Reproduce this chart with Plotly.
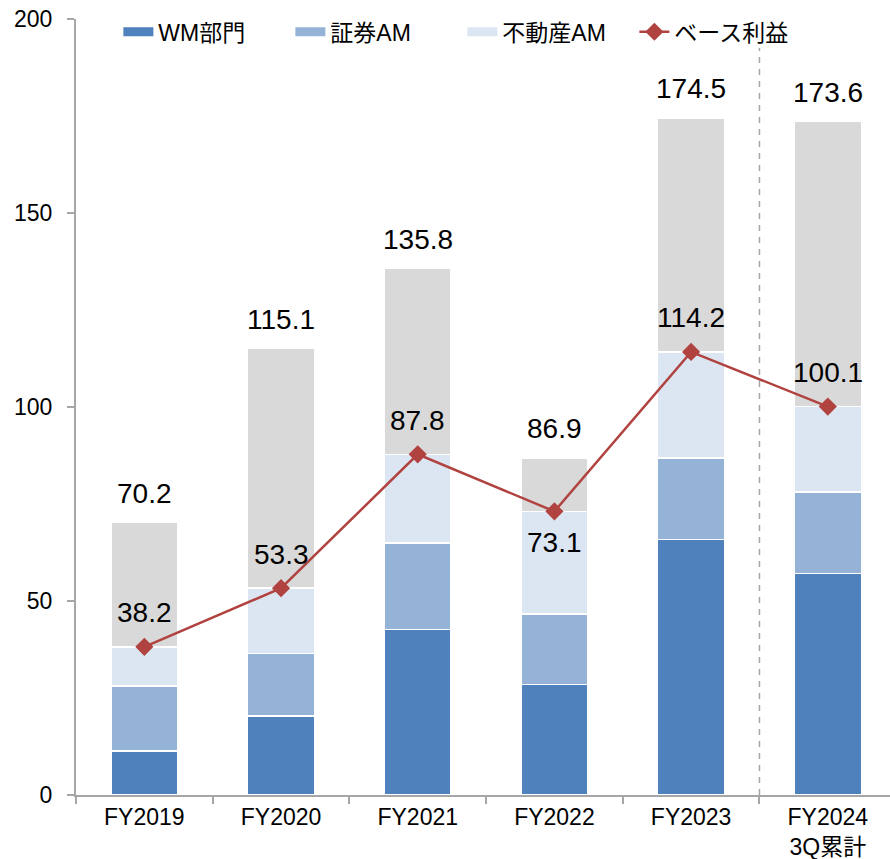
import plotly.graph_objects as go

# Fiscal years on the category axis
categories = ["FY2019", "FY2020", "FY2021", "FY2022", "FY2023", "FY2024"]
tick_labels = ["FY2019", "FY2020", "FY2021", "FY2022", "FY2023", "FY2024<br>3Q累計"]

# Segment profits (stacked)
wm_division = [11.4, 20.4, 42.7, 28.5, 65.9, 57.1]
securities_am = [16.7, 16.1, 22.2, 18.1, 21.0, 21.0]
real_estate_am = [10.1, 16.8, 22.9, 26.5, 27.3, 22.0]

# Base profit (line) and overall total (top of the grey bar)
base_profit = [38.2, 53.3, 87.8, 73.1, 114.2, 100.1]
total_profit = [70.2, 115.1, 135.8, 86.9, 174.5, 173.6]

# Grey portion is the remainder between base profit and total
other_profit = [t - b for t, b in zip(total_profit, base_profit)]

FONT = "Liberation Sans, Arial, Noto Sans CJK JP, sans-serif"
C_WM = "#4F81BD"
C_SEC = "#95B3D7"
C_RE = "#DCE6F2"
C_OTHER = "#D9D9D9"
C_LINE = "#B0423F"
AXIS_GREY = "#A6A6A6"

fig = go.Figure()

bar_line = dict(color="white", width=1.5)
for name, vals, col in [
    ("WM部門", wm_division, C_WM),
    ("証券AM", securities_am, C_SEC),
    ("不動産AM", real_estate_am, C_RE),
    ("その他", other_profit, C_OTHER),
]:
    fig.add_trace(go.Bar(
        x=categories, y=vals, name=name,
        marker=dict(color=col, line=bar_line),
        showlegend=False, hoverinfo="skip",
    ))

# Legend entries drawn as flat swatches
for name, col in [("WM部門", C_WM), ("証券AM", C_SEC), ("不動産AM", C_RE)]:
    fig.add_trace(go.Scatter(
        x=[None], y=[None], mode="lines", name=name,
        line=dict(color=col, width=9),
    ))

fig.add_trace(go.Scatter(
    x=categories, y=base_profit, name="ベース利益",
    mode="lines+markers",
    line=dict(color=C_LINE, width=2.5),
    marker=dict(symbol="diamond", size=14, color=C_LINE),
))

# Value labels: totals above bars, base profit near the line points
annotations = []
for cat, tot in zip(categories, total_profit):
    annotations.append(dict(
        x=cat, y=tot, text=f"{tot:.1f}", showarrow=False,
        yanchor="middle", yshift=29,
        font=dict(family=FONT, size=28, color="black"),
    ))
for cat, bp in zip(categories, base_profit):
    shift = -31 if cat == "FY2022" else 34
    annotations.append(dict(
        x=cat, y=bp, text=f"{bp:.1f}", showarrow=False,
        yanchor="middle", yshift=shift,
        font=dict(family=FONT, size=28, color="black"),
    ))

fig.update_layout(
    width=890, height=859,
    margin=dict(l=76, r=0, t=19, b=64, autoexpand=False),
    paper_bgcolor="white", plot_bgcolor="white",
    barmode="stack", bargap=0.51,
    font=dict(family=FONT, size=23, color="black"),
    annotations=annotations,
    legend=dict(
        orientation="h", traceorder="normal",
        xref="container", yref="container",
        x=0.133, y=0.988, xanchor="left", yanchor="top",
        font=dict(family=FONT, size=23, color="black"),
        entrywidth=127, entrywidthmode="pixels",
        bgcolor="rgba(0,0,0,0)",
    ),
    shapes=[dict(
        type="line", xref="x", yref="y",
        x0=4.5, x1=4.5, y0=0, y1=192.5,
        line=dict(color=AXIS_GREY, width=1.5, dash="6px,6px"),
        layer="below",
    )],
    xaxis=dict(
        type="category",
        range=[-0.5, 5.455],
        tickmode="array", tickvals=categories, ticktext=tick_labels,
        ticks="outside", ticklen=7, tickcolor=AXIS_GREY, tickwidth=1.5,
        tickson="boundaries",
        showline=True, linecolor=AXIS_GREY, linewidth=2,
        showgrid=False, zeroline=False,
        tickfont=dict(family=FONT, size=23, color="black"),
    ),
    yaxis=dict(
        range=[0, 200],
        tickmode="array", tickvals=[0, 50, 100, 150, 200],
        ticks="outside", ticklen=7, tickcolor=AXIS_GREY, tickwidth=1.5,
        showline=True, linecolor=AXIS_GREY, linewidth=2,
        showgrid=False, zeroline=False,
        ticklabelstandoff=10,
        tickfont=dict(family=FONT, size=23, color="black"),
    ),
)

fig.write_html("out.html")
